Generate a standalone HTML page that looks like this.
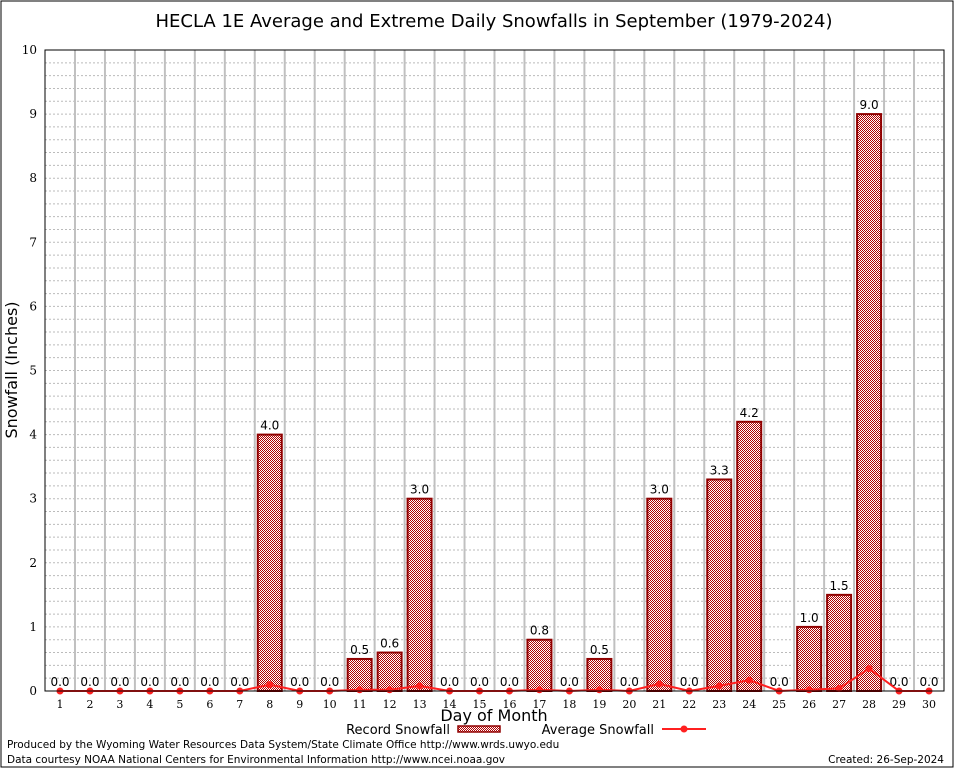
<!DOCTYPE html>
<html><head><meta charset="utf-8"><style>
body{margin:0;background:#fff}
svg{display:block}
.s{font-family:"DejaVu Sans","Liberation Sans",sans-serif}
.r{font-family:"DejaVu Serif","Liberation Serif",serif}
</style></head><body>
<svg id="c" width="954" height="768" xmlns="http://www.w3.org/2000/svg">
<defs>
<pattern id="chk" width="2" height="2" patternUnits="userSpaceOnUse">
<rect width="2" height="2" fill="#fff"/><rect width="1" height="1" fill="#b00000"/><rect x="1" y="1" width="1" height="1" fill="#b00000"/>
</pattern>
</defs>
<rect x="1" y="1" width="952" height="766" fill="#fff" stroke="#000" stroke-width="1"/>
<text x="494" y="27" text-anchor="middle" class="s" font-size="18">HECLA 1E Average and Extreme Daily Snowfalls in September (1979-2024)</text>
<g id="grid"></g>
<g id="bars"></g>
<g id="line"></g>
<g id="axes"></g>
<text x="17" y="370" transform="rotate(-90 17 370)" text-anchor="middle" class="s" font-size="16">Snowfall (Inches)</text>
<text x="494" y="721" text-anchor="middle" class="s" font-size="16">Day of Month</text>
<g>
<text x="450" y="734" text-anchor="end" class="s" font-size="13">Record Snowfall</text>
<rect x="458" y="726" width="42" height="6" fill="url(#chk)" stroke="#900000" stroke-width="1.5"/>
</g>
<g>
<text x="654" y="734" text-anchor="end" class="s" font-size="13">Average Snowfall</text>
<line x1="662" y1="729" x2="706" y2="729" stroke="#ff2020" stroke-width="2"/>
<circle cx="684" cy="729" r="3.5" fill="#ff2020"/>
</g>
<text x="7" y="748" class="s" font-size="10.5">Produced by the Wyoming Water Resources Data System/State Climate Office http://www.wrds.uwyo.edu</text>
<text x="7" y="763" class="s" font-size="10.5">Data courtesy NOAA National Centers for Environmental Information http://www.ncei.noaa.gov</text>
<text x="944" y="763" text-anchor="end" class="s" font-size="10.5">Created: 26-Sep-2024</text>
</svg>
<script>
const days=[1,2,3,4,5,6,7,8,9,10,11,12,13,14,15,16,17,18,19,20,21,22,23,24,25,26,27,28,29,30];
const records=[0,0,0,0,0,0,0,4.0,0,0,0.5,0.6,3.0,0,0,0,0.8,0,0.5,0,3.0,0,3.3,4.2,0,1.0,1.5,9.0,0,0];
const averages=[0,0,0,0,0,0,0,0.1,0,0,0.02,0.02,0.08,0,0,0,0.02,0,0.02,0,0.11,0,0.08,0.17,0,0.02,0.04,0.35,0,0];
const yTicks=[0,1,2,3,4,5,6,7,8,9,10];
const NS="http://www.w3.org/2000/svg";
const L=45,R=944,T=50,B=691;
const x=d=>60+(d-1)*(929-60)/29;
const y=v=>B-(v/10)*(B-T);
function mk(t,a,p){const e=document.createElementNS(NS,t);for(const k in a)e.setAttribute(k,a[k]);p.appendChild(e);return e;}
const grid=document.getElementById('grid'),bars=document.getElementById('bars'),line=document.getElementById('line'),axes=document.getElementById('axes');
for(let v=0.2;v<10;v+=0.2){const g=mk('line',{x1:L,x2:R,y1:y(v),y2:y(v),stroke:'#bbb','stroke-width':1,'stroke-dasharray':'2,2'},grid);

}
for(let i=0;i<days.length-1;i++){const xm=(x(days[i])+x(days[i+1]))/2;const g=mk('line',{x1:xm,x2:xm,y1:T,y2:B,stroke:'#c0c0c0','stroke-width':2},grid);

}
days.forEach((d,i)=>{const v=records[i];
if(v>0){const b=mk('rect',{x:x(d)-12,y:y(v),width:24,height:B-y(v),fill:'url(#chk)',stroke:'#900000','stroke-width':2},bars);

}
const t=mk('text',{x:x(d),y:y(v)-5,'text-anchor':'middle','font-size':12,'class':'s'},bars);t.textContent=v.toFixed(1);


const xl=mk('text',{x:x(d),y:708,'text-anchor':'middle','font-size':11,'class':'r'},axes);xl.textContent=d;

});
const pts=days.map((d,i)=>x(d)+','+y(averages[i])).join(' ');
const pl=mk('polyline',{points:pts,fill:'none',stroke:'#ff2020','stroke-width':2},line);


days.forEach((d,i)=>{const c=mk('circle',{cx:x(d),cy:y(averages[i]),r:3.5,fill:'#ff2020'},line);

});
const fr=mk('rect',{x:L,y:T,width:R-L,height:B-T,fill:'none',stroke:'#000','stroke-width':1},axes);


yTicks.forEach(v=>{const t=mk('text',{x:37,y:y(v)+4,'text-anchor':'end','font-size':12,'class':'r'},axes);t.textContent=v;

});
</script>
</body></html>
